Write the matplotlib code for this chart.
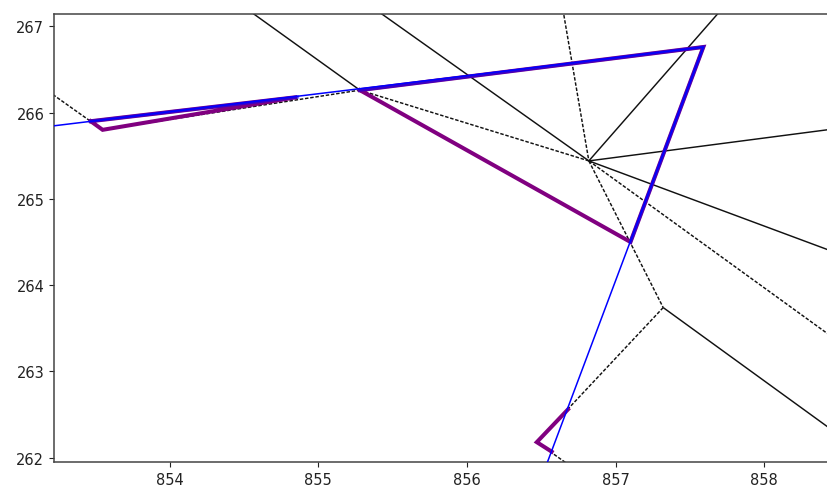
import matplotlib
matplotlib.use("Agg")
import matplotlib.pyplot as plt

# ---- data ----
# Voronoi-like ridges: solid black segments
solid_x = [[854.48, 855.28], [855.34, 856.82], [856.82, 857.74], [856.82, 858.6],
           [856.82, 858.6], [857.32, 858.6]]
solid_y = [[267.25, 266.26], [267.25, 265.44], [265.44, 267.25], [265.44, 265.84],
           [265.44, 264.30], [263.74, 262.14]]
# dashed black segments
dashed_x = [[853.10, 853.55], [853.55, 855.28], [855.28, 856.82], [856.64, 856.82],
            [856.82, 858.6], [856.82, 857.32], [857.32, 856.47], [856.47, 856.74]]
dashed_y = [[266.35, 265.80], [265.80, 266.26], [266.26, 265.44], [267.25, 265.44],
            [265.44, 263.22], [265.44, 263.74], [263.74, 262.18], [262.18, 261.85]]

# thin blue path
path_x = [853.00, 857.59, 856.52]
path_y = [265.80, 266.76, 261.85]

# purple polylines
purple_x = [[853.47, 853.55, 854.86, 853.47],
            [855.28, 857.10, 857.59, 855.28],
            [856.57, 856.47, 856.68]]
purple_y = [[265.90, 265.80, 266.18, 265.90],
            [266.26, 264.50, 266.76, 266.26],
            [262.07, 262.18, 262.56]]

# thick blue (overlaid) polylines
thick_x = [[853.47, 854.86], [855.28, 857.59, 857.10]]
thick_y = [[265.90, 266.18], [266.26, 266.76, 264.50]]

x_ticks = [854, 855, 856, 857, 858]
y_ticks = [262, 263, 264, 265, 266, 267]

# ---- figure ----
W, H = 828, 489
fig = plt.figure(figsize=(W / 100, H / 100), dpi=100)
left_px, right_px, top_px, bot_px = 54, 834, 14.7, 463
ax = fig.add_axes([left_px / W, (H - bot_px) / H, (right_px - left_px) / W, (bot_px - top_px) / H])

for xs, ys in zip(solid_x, solid_y):
    ax.plot(xs, ys, color="#111111", lw=1.05, solid_capstyle="butt", zorder=1)
for xs, ys in zip(dashed_x, dashed_y):
    ax.plot(xs, ys, color="#111111", lw=1.05, linestyle=(0, (2.4, 1.2)), zorder=1)

for xs, ys in zip(purple_x, purple_y):
    ax.plot(xs, ys, color="purple", lw=2.9, solid_joinstyle="miter", zorder=2)

ax.plot(path_x, path_y, color="blue", lw=1.1, zorder=3)

for xs, ys in zip(thick_x, thick_y):
    ax.plot(xs, ys, color="blue", lw=2.4, alpha=0.55, solid_joinstyle="miter", zorder=4)

x_left = 853.223
x_right = 854 + (right_px - 169.5) / 148.7
ax.set_xlim(x_left, x_right)
ax.set_ylim(261.95, 267.146)
ax.set_xticks(x_ticks)
ax.set_yticks(y_ticks)
ax.tick_params(labelsize=10.5, colors="#222222")
for s in ax.spines.values():
    s.set_color("#444444")
    s.set_linewidth(1.1)

fig.savefig("out.png", dpi=100)
